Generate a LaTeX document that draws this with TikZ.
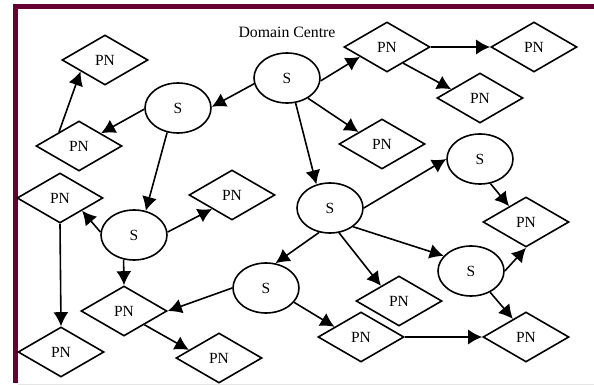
\documentclass[tikz,border=0pt]{standalone}
\usepackage{fontspec}
\setmainfont{Liberation Serif}
\usetikzlibrary{shapes.geometric,arrows.meta}
\definecolor{rahmen}{RGB}{102,0,51}
\tikzstyle{line} = [draw, line width=1.6pt, -{Latex[length=14pt,width=15pt]}]
\tikzstyle{pn} = [draw, diamond, line width=1.6pt, minimum width=86pt, minimum height=50pt, inner sep=0pt, font=\fontsize{15.5}{18}\selectfont]
\tikzstyle{srv} = [draw, ellipse, line width=1.6pt, minimum width=66pt, minimum height=50pt, inner sep=0pt, font=\fontsize{15.5}{18}\selectfont]

\begin{document}
\begin{tikzpicture}[x=1pt,y=-1pt]
		\useasboundingbox (0,0) rectangle (594,385);
		\fill[rahmen] (13,4) rectangle (594,9); % Rahmen oben
		\fill[rahmen] (13,4) rectangle (18,383); % Rahmen links
		\draw[gray!20] (18,384) -- (594,384);
		\node[font=\fontsize{15.8}{18}\selectfont] (dc) at (287,32) {Domain Centre};
		
		% Server
		\node[srv] (sT) at (287,78) {S};
		\node[srv] (sL) at (178,108) {S};
		\node[srv] (sML) at (134,235) {S};
		\node[srv] (sLC) at (266,288) {S};
		\node[srv] (sC) at (330,208) {S};
		\node[srv] (sRT) at (480,159) {S};
		\node[srv] (sRL) at (471,271) {S};
		
		% PN
		\node[pn] (pTL) at (105,60) {PN};
		\node[pn] (pL2) at (79,146) {PN};
		\node[pn] (pL3) at (60,198) {PN};
		\node[pn] (pBL) at (61,352) {PN};
		\node[pn] (pMT) at (232,195) {PN};
		\node[pn] (pM) at (124,311) {PN};
		\node[pn] (pBM) at (219,358) {PN};
		\node[pn] (pT1) at (387,47) {PN};
		\node[pn] (pTF) at (534,47) {PN};
		\node[pn] (pS) at (480,98) {PN};
		\node[pn] (pSub) at (382,144) {PN};
		\node[pn] (pR) at (526,222) {PN};
		\node[pn] (pMR) at (399,301) {PN};
		\node[pn] (pB) at (361,337) {PN};
		\node[pn] (pBR) at (526,337) {PN};
		
		\draw[line] (sT.190) -- (sL.2);
		\draw[line] (sL.182) -- (pL2.30);
		\draw[line] (pL2.145) -- (pTL.205);
		\draw[line] (sL.246) -- (sML.64);
		\draw[line] (sT.355) -- (pT1.200);
		\draw[line] (sT.316) -- (pSub.153);
		\draw[line] (sT.289) -- (sC.120);
		\draw[line] (pT1.east) -- (pTF.west);
		\draw[line] (pT1.315) -- (pS.163);
		\draw[line] (sC.east) -- (sRT.west);
		\draw[line] (sRT.293) -- (pR.137);
		\draw[line] (sC.321) -- (sRL.151);
		\draw[line] (sC.290) -- (pMR.140);
		\draw[line] (sC.246) -- (sLC.69);
		\draw[line] (sRL.east) -- (pR.south);
		\draw[line] (sRL.312) -- (pBR.126);
		\draw[line] (pB.east) -- (pBR.west);
		\draw[line] (sLC.333) -- (pB.159);
		\draw[line] (sLC.west) -- (pM.east);
		\draw[line] (sML.175) -- (pL3.330);
		\draw[line] (sML.5) -- (pMT.215);
		\draw[line] (sML.247) -- (pM.north);
		\draw[line] (pL3.south) -- (pBL.north);
		\draw[line] (pM.326) -- (pBM.165);
		
	\end{tikzpicture}
\end{document}
